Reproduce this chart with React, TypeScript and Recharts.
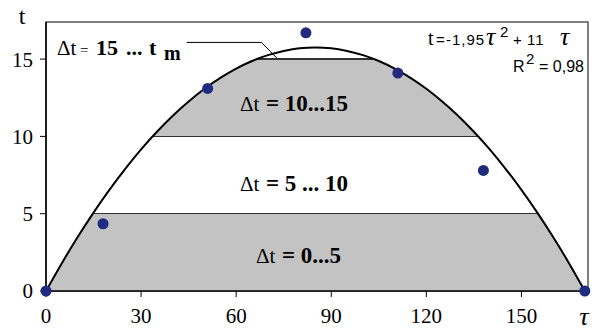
import {
  ComposedChart,
  Area,
  Scatter,
  XAxis,
  YAxis,
  ReferenceArea,
  ReferenceLine
} from 'recharts';

// fitted curve
const curveTau = [0, 5, 10, 15, 20, 25, 30, 35, 40, 45, 50, 55, 60, 65, 70, 75, 80, 85, 90, 95, 100, 105, 110, 115, 120, 125, 130, 135, 140, 145, 150, 155, 160, 165, 170];
const curveT = [0, 1.8, 3.49, 5.07, 6.54, 7.9, 9.16, 10.3, 11.34, 12.26, 13.08, 13.79, 14.39, 14.88, 15.26, 15.53, 15.7, 15.75, 15.7, 15.53, 15.26, 14.88, 14.39, 13.79, 13.08, 12.26, 11.34, 10.3, 9.16, 7.9, 6.54, 5.07, 3.49, 1.8, 0];

// measured points
const pointTau = [0, 18, 51, 82, 111, 138, 170];
const pointT = [0, 4.35, 13.1, 16.7, 14.1, 7.8, 0];

const xTicks = [0, 30, 60, 90, 120, 150];
const yTicks = [0, 5, 10, 15];
const bandLevels = [5, 10, 15];

const W = 592;
const H = 330;
const TOP = 22;
const X_AXIS_H = 39;
const Y_MAX = 17.4;
const X_MAX = 171;

const curveData = curveTau.map((tau, i) => ({ tau, t: curveT[i] }));
const pointData = pointTau.map((tau, i) => ({ tau, t: pointT[i] }));

const GRAY = '#c3c3c3';
const DARK = '#333';
const serif = 'Liberation Serif, Times New Roman, serif';
const sans = 'Liberation Sans, Arial, sans-serif';

// hard-stop gradient: grey below 5, white 5..10, grey 10..15, white above
const peak = Math.max(...curveT);
const pxPerUnit = (H - TOP - X_AXIS_H) / Y_MAX;
const half = 0.7 / (peak * pxPerUnit);
const off = (v: number) => (peak - v) / peak;
const [b5, b10, b15] = bandLevels;
const stops: [number, string][] = [
  [0, '#fff'], [off(b15) - half, '#fff'],
  [off(b15) - half, DARK], [off(b15) + half, DARK],
  [off(b15) + half, GRAY], [off(b10) - half, GRAY],
  [off(b10) - half, DARK], [off(b10) + half, DARK],
  [off(b10) + half, '#fff'], [off(b5) - half, '#fff'],
  [off(b5) - half, DARK], [off(b5) + half, DARK],
  [off(b5) + half, GRAY], [1, GRAY]
];

const Dot = (props: any) => <circle cx={props.cx} cy={props.cy} r={5.5} fill="#1f2a80" />;

export default function App() {
  return (
    <div style={{ position: 'relative', width: W, height: H, background: '#fff' }}>
      <style>{'body{margin:0}'}</style>
      <ComposedChart width={W} height={H} data={curveData} margin={{ top: TOP, right: 4, left: 0, bottom: 0 }}>
        <defs>
          <linearGradient id="bands" x1="0" y1="0" x2="0" y2="1">
            {stops.map(([o, c], i) => (
              <stop key={i} offset={o} stopColor={c} />
            ))}
          </linearGradient>
        </defs>
        <XAxis
          type="number"
          dataKey="tau"
          domain={[0, X_MAX]}
          ticks={xTicks}
          height={X_AXIS_H}
          tickSize={6}
          tickMargin={11}
          axisLine={{ stroke: '#000', strokeWidth: 1.5 }}
          tickLine={{ stroke: '#000' }}
          tick={{ fill: '#000', fontSize: 21, fontFamily: serif }}
        />
        <YAxis
          type="number"
          domain={[0, Y_MAX]}
          ticks={yTicks}
          width={46}
          tickSize={6}
          tickMargin={7}
          axisLine={{ stroke: '#000', strokeWidth: 1.5 }}
          tickLine={{ stroke: '#000' }}
          tick={{ fill: '#000', fontSize: 21, fontFamily: serif }}
        />
        <ReferenceArea x1={0} x2={X_MAX} y1={0} y2={Y_MAX} fill="none" stroke="#555" strokeWidth={1.5} />
        <Area
          type="monotone"
          dataKey="t"
          stroke="#000"
          strokeWidth={2}
          fill="url(#bands)"
          fillOpacity={1}
          dot={false}
          activeDot={false}
          isAnimationActive={false}
        />
        <ReferenceLine segment={[{ x: 44.4, y: 16.08 }, { x: 68, y: 16.08 }]} stroke="#000" strokeWidth={1} />
        <ReferenceLine segment={[{ x: 68, y: 16.08 }, { x: 72.8, y: 15.07 }]} stroke="#000" strokeWidth={1} />
        <Scatter data={pointData} dataKey="t" shape={Dot} isAnimationActive={false} />
      </ComposedChart>

      <svg width={W} height={H} style={{ position: 'absolute', left: 0, top: 0, pointerEvents: 'none' }}>
        <text x={22} y={24} textAnchor="middle" fontSize={24} fontFamily={serif}>t</text>
        <text x={584} y={325} textAnchor="middle" fontSize={26} fontStyle="italic" fontFamily={serif}>τ</text>

        <text y={55} fontSize={21} fontFamily={serif}>
          <tspan x={57}>Δt</tspan>
          <tspan x={80} fontSize={15}>=</tspan>
          <tspan x={96} fontSize={22} fontWeight="bold">15</tspan>
          <tspan x={126} fontSize={22} fontWeight="bold">...</tspan>
          <tspan x={149} fontSize={22} fontWeight="bold">t</tspan>
          <tspan x={164} dy={5} fontSize={20} fontWeight="bold">m</tspan>
        </text>
        <text y={111} fontSize={21} fontFamily={serif}>
          <tspan x={240}>Δt</tspan>
          <tspan x={266} fontSize={23} fontWeight="bold">= 10...15</tspan>
        </text>
        <text y={191} fontSize={21} fontFamily={serif}>
          <tspan x={240}>Δt</tspan>
          <tspan x={266} fontSize={23} fontWeight="bold">= 5 ... 10</tspan>
        </text>
        <text y={263} fontSize={21} fontFamily={serif}>
          <tspan x={256}>Δt</tspan>
          <tspan x={282} fontSize={23} fontWeight="bold">= 0...5</tspan>
        </text>

        <text y={45} fontSize={15} fontFamily={sans}>
          <tspan x={428} fontFamily={serif} fontSize={20}>t</tspan>
          <tspan x={436}>=</tspan>
          <tspan x={446} letterSpacing={1}>-1,95</tspan>
          <tspan x={486} fontFamily={serif} fontStyle="italic" fontSize={26}>τ</tspan>
          <tspan x={500} dy={-8} fontSize={15}>2</tspan>
          <tspan x={513} dy={8}>+</tspan>
          <tspan x={527} letterSpacing={1}>11</tspan>
          <tspan x={560} fontFamily={serif} fontStyle="italic" fontSize={26}>τ</tspan>
        </text>
        <text y={72} fontSize={16} fontFamily={sans}>
          <tspan x={513}>R</tspan>
          <tspan x={526} dy={-8} fontSize={15}>2</tspan>
          <tspan x={539} dy={8}>= 0,98</tspan>
        </text>
      </svg>
    </div>
  );
}
